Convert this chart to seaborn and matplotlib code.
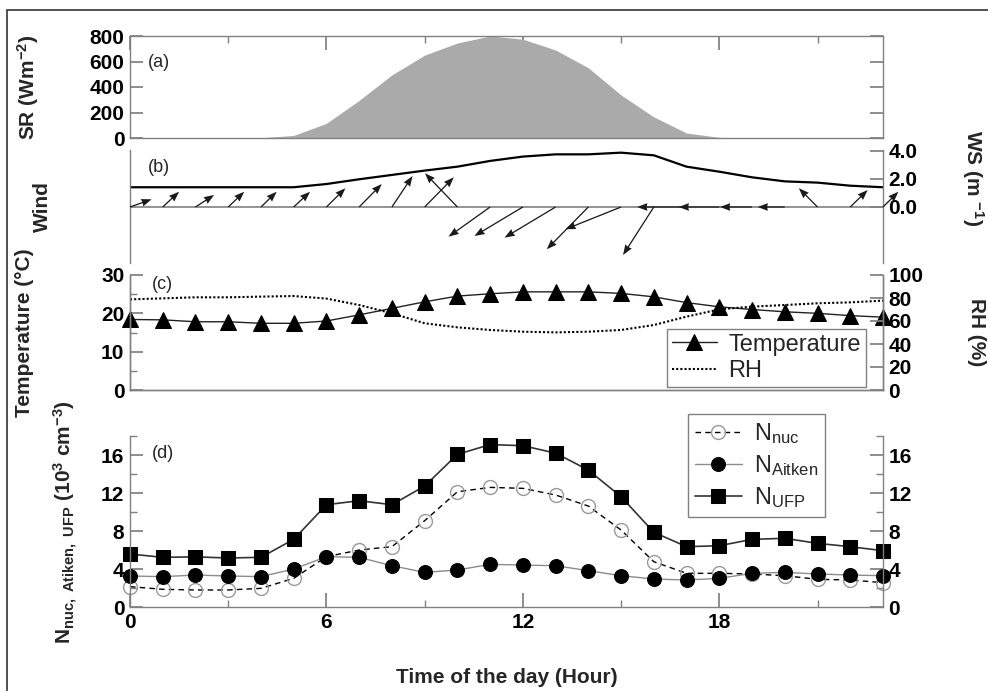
import numpy as np
import matplotlib
matplotlib.use("Agg")
import matplotlib.pyplot as plt
import seaborn as sns
from matplotlib.ticker import MultipleLocator
from matplotlib.patches import Rectangle

# hourly values
hours = np.arange(24)
solar_rad = [0, 0, 0, 0, 2, 20, 115, 295, 495, 650, 745, 800,
             775, 690, 550, 337, 165, 39, 5, 0, 0, 0, 0, 0]
wind_speed = [1.41, 1.41, 1.41, 1.41, 1.41, 1.41, 1.64, 1.98, 2.29, 2.6, 2.88, 3.29,
              3.6, 3.76, 3.76, 3.88, 3.69, 2.88, 2.52, 2.12, 1.83, 1.74, 1.52, 1.41]
# wind vector components in plot units (hours, m/s)
wind_u = [0.66, 0.50, 0.57, 0.49, 0.48, 0.50, 0.58, 0.69, 0.63, 0.89, -0.99, -1.27,
          -1.48, -1.56, -1.27, -1.70, -0.94, -1.51, -1.24, -0.98, -0.83, -0.57, 0.53, 0.47]
wind_v = [0.55, 1.09, 0.86, 1.09, 1.09, 1.09, 1.34, 1.64, 2.21, 2.12, 2.41, -2.12,
          -2.07, -2.19, -3.02, -1.59, -3.43, 0, 0, 0, 0, 1.34, 1.21, 1.09]
temperature = [18.4, 18.3, 17.8, 17.8, 17.4, 17.4, 18.0, 19.6, 21.3, 23.0, 24.5, 25.1,
               25.6, 25.6, 25.6, 25.2, 24.3, 22.8, 21.7, 21.0, 20.4, 20.0, 19.4, 19.0]
rel_hum = [78.8, 79.7, 80.6, 80.6, 81.2, 81.7, 79.5, 73.9, 66.7, 58.0, 54.5, 52.2,
           50.7, 50.1, 50.7, 52.2, 56.5, 63.8, 70.1, 72.5, 73.9, 75.4, 76.2, 77.7]
n_nuc = [2.17, 1.89, 1.82, 1.82, 1.99, 3.04, 5.32, 6.02, 6.37, 9.1, 12.14, 12.6,
         12.5, 11.8, 10.64, 8.12, 4.79, 3.57, 3.57, 3.5, 3.32, 2.94, 2.87, 2.59]
n_aitken = [3.29, 3.22, 3.39, 3.29, 3.22, 4.02, 5.32, 5.25, 4.37, 3.67, 3.92, 4.51,
            4.44, 4.37, 3.85, 3.32, 2.97, 2.87, 3.04, 3.57, 3.67, 3.5, 3.39, 3.32]
n_ufp = [5.6, 5.25, 5.3, 5.18, 5.25, 7.14, 10.78, 11.2, 10.78, 12.74, 16.07, 17.1,
         16.98, 16.2, 14.42, 11.62, 7.88, 6.37, 6.47, 7.14, 7.25, 6.72, 6.37, 5.95]

sns.set_theme(style="ticks")
gray = "#808080"
plt.rcParams["font.family"] = ["Liberation Sans", "DejaVu Sans"]
plt.rcParams.update({
    "font.weight": "bold",
    "axes.labelweight": "bold",
    "mathtext.fontset": "custom",
    "mathtext.rm": "Liberation Sans",
    "mathtext.it": "Liberation Sans:italic",
    "mathtext.bf": "Liberation Sans:bold",
    "axes.edgecolor": gray, "axes.linewidth": 1.0,
    "xtick.color": gray, "ytick.color": gray,
    "xtick.labelcolor": "black", "ytick.labelcolor": "black",
    "xtick.direction": "in", "ytick.direction": "in",
    "xtick.major.size": 10, "xtick.minor.size": 5,
    "ytick.major.size": 9.5, "ytick.minor.size": 5,
    "xtick.labelsize": 15, "ytick.labelsize": 15,
    "xtick.major.pad": 4, "ytick.major.pad": 4,
})

W, H = 988, 691
fig = plt.figure(figsize=(W / 100, H / 100), dpi=100)
fig.patches.append(Rectangle((7 / W, -0.05), 1.1, 1 - 10 / H + 0.05, transform=fig.transFigure,
                             fill=False, edgecolor="#333333", lw=1.2))


def frame(top, bot):
    return [130 / W, 1 - bot / H, 753 / W, (bot - top) / H]


lab_kw = dict(fontsize=13, fontweight="normal", va="center")
ylab_kw = dict(fontsize=15, fontweight="bold")

# (a) solar radiation
ax_a = fig.add_axes(frame(36, 138))
ax_a.fill_between(hours, solar_rad, color="#aaaaaa", lw=0)
ax_a.set_xlim(0, 23)
ax_a.set_ylim(0, 800)
ax_a.yaxis.set_major_locator(MultipleLocator(200))
ax_a.xaxis.set_major_locator(MultipleLocator(6))
ax_a.xaxis.set_minor_locator(MultipleLocator(3))
ax_a.tick_params(axis="y", right=True)
ax_a.tick_params(axis="x", which="both", bottom=False, top=True, labelbottom=False)
ax_a.set_ylabel("SR (Wm$^\\mathregular{-2}$)", **ylab_kw)
ax_a.yaxis.set_label_coords(-0.118, 0.5)
ax_a.text(0.024, 0.745, "(a)", transform=ax_a.transAxes, **lab_kw)

# (b) wind
ax_b = fig.add_axes(frame(150, 263))
ax_b.axhline(0, color=gray, lw=1.2)
sns.lineplot(x=hours, y=wind_speed, color="black", lw=1.6, ax=ax_b)
ax_b.quiver(hours, np.zeros(len(hours)), wind_u, wind_v, angles="xy", scale_units="xy", scale=1,
            color="#1a1a1a", width=0.0017, headwidth=6, headlength=8, headaxislength=7.5,
            clip_on=False, zorder=3)
ax_b.set_xlim(0, 23)
ax_b.set_ylim(-4, 4.07)
ax_b.spines[["top", "bottom"]].set_visible(False)
ax_b.set_xticks([])
ax_b.yaxis.tick_right()
ax_b.set_yticks([0, 2, 4])
ax_b.set_yticklabels(["0.0", "2.0", "4.0"])
ax_b.set_ylabel("Wind", **ylab_kw)
ax_b.yaxis.set_label_position("left")
ax_b.yaxis.set_label_coords(-0.1036, 0.5)
ax_b.text(0.024, 0.845, "(b)", transform=ax_b.transAxes, **lab_kw)

# (c) temperature and RH
ax_c = fig.add_axes(frame(275, 390))
ax_c2 = ax_c.twinx()
sns.lineplot(x=hours, y=temperature, marker="^", markersize=11, color="#222222", lw=1,
             markerfacecolor="black", markeredgecolor="black", clip_on=False,
             label="Temperature", legend=False, ax=ax_c)
sns.lineplot(x=hours, y=rel_hum, color="black", lw=1.5, linestyle=(0, (1, 1)),
             label="RH", legend=False, ax=ax_c2)
ax_c.set_xlim(0, 23)
ax_c.set_ylim(0, 30)
ax_c2.set_ylim(0, 100)
ax_c.yaxis.set_major_locator(MultipleLocator(10))
ax_c.yaxis.set_minor_locator(MultipleLocator(5))
ax_c2.yaxis.set_major_locator(MultipleLocator(20))
for a in (ax_c, ax_c2):
    a.spines["top"].set_visible(False)
    a.set_xticks([])
ax_c.set_ylabel("Temperature (°C)", **ylab_kw)
ax_c.yaxis.set_label_coords(-0.1275, 0.5)
ax_c.text(0.029, 0.917, "(c)", transform=ax_c.transAxes, **lab_kw)
h1, l1 = ax_c.get_legend_handles_labels()
h2, l2 = ax_c2.get_legend_handles_labels()
leg = ax_c2.legend(h1 + h2, l1 + l2, loc="lower right", bbox_to_anchor=(0.977, 0.026),
                   borderaxespad=0, prop={"size": 17, "weight": "normal"}, fancybox=False,
                   edgecolor=gray, framealpha=1, handlelength=1.9, labelspacing=0.2,
                   borderpad=0.2, handletextpad=0.5)
leg.get_frame().set_linewidth(1)

# (d) particle number concentrations
ax_d = fig.add_axes(frame(436, 607.3))
sns.lineplot(x=hours, y=n_nuc, marker="o", markersize=10, color="black", lw=1,
             linestyle=(0, (4, 3)), markerfacecolor="none", markeredgecolor="#9a9a9a",
             markeredgewidth=1, clip_on=False, label="N$_\\mathregular{nuc}$", legend=False, ax=ax_d)
sns.lineplot(x=hours, y=n_aitken, marker="o", markersize=10, color="#8c8c8c", lw=1,
             markerfacecolor="black", markeredgecolor="black", clip_on=False,
             label="N$_\\mathregular{Aitken}$", legend=False, ax=ax_d)
sns.lineplot(x=hours, y=n_ufp, marker="s", markersize=10, color="#333333", lw=1.2,
             markerfacecolor="black", markeredgecolor="black", clip_on=False,
             label="N$_\\mathregular{UFP}$", legend=False, ax=ax_d)
ax_d.set_xlim(0, 23)
ax_d.set_ylim(0, 18)
ax_d.spines["top"].set_visible(False)
ax_d.xaxis.set_major_locator(MultipleLocator(6))
ax_d.xaxis.set_minor_locator(MultipleLocator(3))
ax_d.yaxis.set_major_locator(MultipleLocator(4))
ax_d.yaxis.set_minor_locator(MultipleLocator(2))
ax_d.tick_params(axis="y", which="both", right=True, labelright=True)
ax_d.set_xlabel("Time of the day (Hour)", labelpad=26, **ylab_kw)
ax_d.set_ylabel("N$_\\mathregular{nuc,\\ Atiken,\\ UFP}$ (10$^\\mathregular{3}$ cm$^\\mathregular{-3}$)",
                **ylab_kw)
ax_d.yaxis.set_label_coords(-0.067, 0.5)
ax_d.text(0.029, 0.90, "(d)", transform=ax_d.transAxes, **lab_kw)
leg = ax_d.legend(loc="upper right", bbox_to_anchor=((825 - 130) / 753, (607.3 - 414) / 171.3),
                  borderaxespad=0, prop={"size": 17, "weight": "normal"}, fancybox=False,
                  edgecolor=gray, framealpha=1, handlelength=2.0, labelspacing=0.3,
                  borderpad=0.3, handletextpad=0.5)
leg.get_frame().set_linewidth(1)

# right-hand labels at the page edge
fig.text(986 / W, 1 - 178 / H, "WS (m $^\\mathregular{-1}$)", rotation=270, ha="right", va="center",
         fontsize=15, fontweight="bold")
fig.text(986 / W, 1 - 332 / H, "RH (%)", rotation=270, ha="right", va="center",
         fontsize=15, fontweight="bold")

fig.savefig("out.png", dpi=100)
